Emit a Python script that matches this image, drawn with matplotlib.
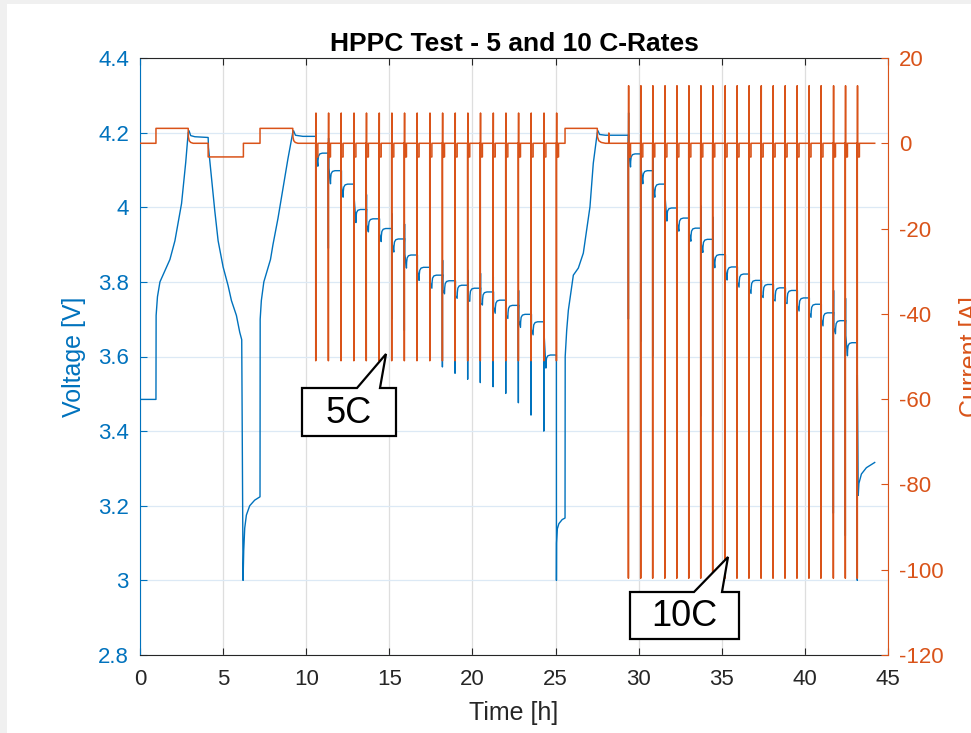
import matplotlib
matplotlib.use('Agg')
import matplotlib.pyplot as plt
from matplotlib.patches import Polygon, Rectangle

plt.rcParams['font.family'] = ['Liberation Sans', 'DejaVu Sans']

BLUE = '#0072BD'
ORANGE = '#D95319'
DARK = '#262626'

# ---------------- data ----------------
title = 'HPPC Test - 5 and 10 C-Rates'
x_ticks = [0, 5, 10, 15, 20, 25, 30, 35, 40, 45]
v_ticks = [2.8, 3.0, 3.2, 3.4, 3.6, 3.8, 4.0, 4.2, 4.4]
v_tick_labels = ['2.8', '3', '3.2', '3.4', '3.6', '3.8', '4', '4.2', '4.4']
i_ticks = [-120, -100, -80, -60, -40, -20, 0, 20]

# initial rest
rest0_t = [0.0, 0.96]
rest0_v = [3.485, 3.485]
# first CC-CV charge
charge1_t = [0.97, 1.05, 1.2, 1.5, 1.8, 2.1, 2.5, 2.75, 2.9]
charge1_v = [3.71, 3.76, 3.80, 3.83, 3.86, 3.91, 4.01, 4.12, 4.20]
rest1_t = [2.95, 3.05, 3.3, 4.10]
rest1_v = [4.205, 4.192, 4.189, 4.187]
# full discharge
dis1_t = [4.12, 4.3, 4.5, 4.7, 5.0, 5.3, 5.5, 5.8, 6.0, 6.12, 6.2]
dis1_v = [4.16, 4.08, 3.99, 3.91, 3.84, 3.79, 3.75, 3.71, 3.665, 3.645, 3.00]
recov1_t = [6.24, 6.3, 6.4, 6.6, 6.9, 7.22]
recov1_v = [3.08, 3.14, 3.175, 3.20, 3.215, 3.224]
# second charge
charge2_t = [7.23, 7.3, 7.45, 7.65, 7.85, 8.0, 8.3, 8.6, 8.9, 9.19]
charge2_v = [3.70, 3.75, 3.80, 3.83, 3.86, 3.90, 3.97, 4.05, 4.13, 4.20]
rest2_t = [9.24, 9.35, 9.8]
rest2_v = [4.205, 4.193, 4.19]

# 5C pulse train
p5_t = [10.57, 11.33, 12.09, 12.86, 13.61, 14.38, 15.14, 15.90, 16.66, 17.43,
        18.19, 18.95, 19.71, 20.47, 21.24, 22.00, 22.76, 23.52, 24.29, 25.05]
p5_level = [4.145, 4.098, 4.062, 3.994, 3.969, 3.943, 3.915, 3.872, 3.839, 3.818,
            3.803, 3.791, 3.783, 3.773, 3.751, 3.737, 3.713, 3.693, 3.604]
p5_min = [3.94, 3.89, 3.85, 3.81, 3.76, 3.73, 3.70, 3.67, 3.64, 3.61,
          3.572, 3.555, 3.539, 3.530, 3.519, 3.501, 3.476, 3.443, 3.40, 3.00]
p5_dis_a = 51.0
p5_chg_a = 7.1
recov2_t = [25.06, 25.1, 25.2, 25.4, 25.57]
recov2_v = [3.10, 3.137, 3.152, 3.163, 3.167]

# third charge
charge3_t = [25.58, 25.67, 25.77, 26.07, 26.37, 26.67, 27.07, 27.27, 27.51]
charge3_v = [3.60, 3.67, 3.724, 3.818, 3.837, 3.877, 4.001, 4.118, 4.20]
rest3_t = [27.55, 27.65, 28.0]
rest3_v = [4.205, 4.195, 4.193]

# 10C pulse train
p10_t = [29.38, 30.12, 30.84, 31.57, 32.29, 33.01, 33.73, 34.45, 35.19, 35.91,
         36.63, 37.36, 38.08, 38.80, 39.52, 40.24, 40.96, 41.71, 42.43, 43.15]
p10_level = [4.143, 4.098, 4.062, 3.998, 3.971, 3.944, 3.914, 3.873, 3.840, 3.821,
             3.804, 3.793, 3.784, 3.777, 3.757, 3.740, 3.717, 3.696, 3.637]
p10_min = [3.70, 3.64, 3.60, 3.56, 3.50, 3.47, 3.44, 3.40, 3.36, 3.33,
           3.31, 3.30, 3.29, 3.28, 3.26, 3.24, 3.21, 3.18, 3.12, 3.00]
p10_dis_a = 102.0
p10_chg_a = 13.5
final_t = [43.154, 43.21, 43.25, 43.4, 43.7, 44.2]
final_v = [3.55, 3.228, 3.26, 3.285, 3.302, 3.316]

# current segments outside the pulse trains
cur_pre_t = [0, 0.96, 0.961, 2.90, 2.91, 2.96, 3.05, 3.20, 4.10, 4.101, 6.22, 6.221,
             7.22, 7.221, 9.19, 9.20, 9.25, 9.34, 9.50]
cur_pre_i = [0, 0, 3.5, 3.5, 1.5, 0.6, 0.2, 0, 0, -3.2, -3.2, 0,
             0, 3.5, 3.5, 1.5, 0.6, 0.2, 0]
cur_mid_t = [25.57, 25.571, 27.51, 27.52, 27.6, 27.75, 28.0, 28.2, 28.201, 28.21, 28.211]
cur_mid_i = [0, 3.5, 3.5, 1.5, 0.6, 0.2, 0, 0, 2.4, 2.4, 0]
cur_end_t = [44.2]
cur_end_i = [0]
soc_step_a = 3.2

# ---------------- build traces ----------------
tv, vv, ti, ii = [], [], [], []
tv += rest0_t; vv += rest0_v
tv += charge1_t; vv += charge1_v
tv += rest1_t; vv += rest1_v
tv += dis1_t; vv += dis1_v
tv += recov1_t; vv += recov1_v
tv += charge2_t; vv += charge2_v
tv += rest2_t; vv += rest2_v

ti += cur_pre_t; ii += cur_pre_i


def pulse_current(tp, dis_a, chg_a):
    ti.extend([tp, tp + 0.0001, tp + 0.003, tp + 0.0031, tp + 0.013, tp + 0.0131,
               tp + 0.016, tp + 0.0161, tp + 0.03, tp + 0.0301, tp + 0.13, tp + 0.1301])
    ii.extend([0, -dis_a, -dis_a, 0, 0, chg_a, chg_a, 0, 0, -soc_step_a, -soc_step_a, 0])


def pulse_train(times, levels, mins, start_level, dis_a, chg_a, up):
    lp = start_level
    for k, tp in enumerate(times):
        m = mins[k]
        pulse_current(tp, dis_a, chg_a)
        if k < len(levels):
            ln = levels[k]
            tv.extend([tp, tp + 0.0001, tp + 0.003, tp + 0.0031, tp + 0.013, tp + 0.0131,
                       tp + 0.016, tp + 0.0161, tp + 0.03, tp + 0.0301, tp + 0.13,
                       tp + 0.14, tp + 0.17, tp + 0.25, tp + 0.40])
            vv.extend([lp, m, m, lp - 0.01, lp, lp + up, lp + up, lp, lp, lp - 0.04,
                       ln - 0.035, ln - 0.02, ln - 0.008, ln - 0.002, ln])
            lp = ln
        else:
            tv.extend([tp, tp + 0.0001, tp + 0.003])
            vv.extend([lp, m, m])


pulse_train(p5_t, p5_level, p5_min, 4.19, p5_dis_a, p5_chg_a, 0.04)
tv += recov2_t; vv += recov2_v
tv += charge3_t; vv += charge3_v
tv += rest3_t; vv += rest3_v
ti += cur_mid_t; ii += cur_mid_i
pulse_train(p10_t, p10_level, p10_min, 4.193, p10_dis_a, p10_chg_a, 0.06)
tv += final_t; vv += final_v
ti += cur_end_t; ii += cur_end_i

# ---------------- figure ----------------
W, H = 971, 733
fig = plt.figure(figsize=(W / 100, H / 100), dpi=100, facecolor='white')
fig.patches.append(Rectangle((0, 0), 7 / W, 1, transform=fig.transFigure,
                             facecolor='#f0f0f0', edgecolor='none', zorder=0))
fig.patches.append(Rectangle((0, 1 - 4 / H), 1, 4 / H, transform=fig.transFigure,
                             facecolor='#f0f0f0', edgecolor='none', zorder=0))

L, R, T, B = 140, 888, 58, 655
ax = fig.add_axes([L / W, 1 - B / H, (R - L) / W, (B - T) / H])
ax2 = ax.twinx()

ax.plot(tv, vv, color=BLUE, lw=1.0, zorder=3)
ax2.plot(ti, ii, color=ORANGE, lw=1.1, zorder=3)

ax.set_xlim(0, 45)
ax.set_ylim(2.8, 4.4)
ax2.set_ylim(-120, 20)
ax.set_xticks(x_ticks)
ax.set_xticklabels([str(x) for x in x_ticks])
ax.set_yticks(v_ticks)
ax.set_yticklabels(v_tick_labels)
ax2.set_yticks(i_ticks)
ax2.set_yticklabels([str(v) for v in i_ticks])

ax.set_axisbelow(True)
ax.xaxis.grid(True, color='#dedede', lw=0.9)
ax.yaxis.grid(True, color='#dce9f5', lw=0.9)

for s in ['top', 'bottom']:
    ax.spines[s].set_color(DARK)
    ax2.spines[s].set_visible(False)
ax.spines['left'].set_color(BLUE)
ax.spines['right'].set_visible(False)
ax2.spines['left'].set_visible(False)
ax2.spines['right'].set_color(ORANGE)

TS = 16
ax.tick_params(axis='x', direction='in', top=True, length=5, color=DARK,
               labelcolor=DARK, labelsize=TS, pad=10)
ax.tick_params(axis='y', direction='in', length=5, color=BLUE,
               labelcolor=BLUE, labelsize=TS, pad=8)
ax2.tick_params(axis='y', direction='in', length=5, color=ORANGE,
                labelcolor=ORANGE, labelsize=TS, pad=8)

ax.set_title(title, fontsize=19, fontweight='bold', color='black', pad=5)
ax.set_xlabel('Time [h]', fontsize=18, color=DARK, labelpad=8)
ax.set_ylabel('Voltage [V]', fontsize=18, color=BLUE)
ax.yaxis.set_label_coords(-0.072, 0.5)
ax2.set_ylabel('Current [A]', fontsize=18, color=ORANGE)
ax2.yaxis.set_label_coords(1.095, 0.5)


def callout(px_pts, text, cx, cy):
    pts = [(x / W, 1 - y / H) for x, y in px_pts]
    fig.patches.append(Polygon(pts, closed=True, transform=fig.transFigure,
                               facecolor='white', edgecolor='black', lw=1.6, zorder=10))
    fig.text(cx / W, 1 - cy / H, text, fontsize=26, ha='center', va='center',
             color='black', zorder=11)


callout([(302, 436), (302, 388), (357, 388), (386, 354), (380, 388), (396, 388), (396, 436)],
        '5C', 349, 413)
callout([(630, 639), (630, 592), (694, 592), (728, 557), (722, 592), (739, 592), (739, 639)],
        '10C', 684.5, 616)

fig.savefig('out.png', dpi=100, facecolor='white')
